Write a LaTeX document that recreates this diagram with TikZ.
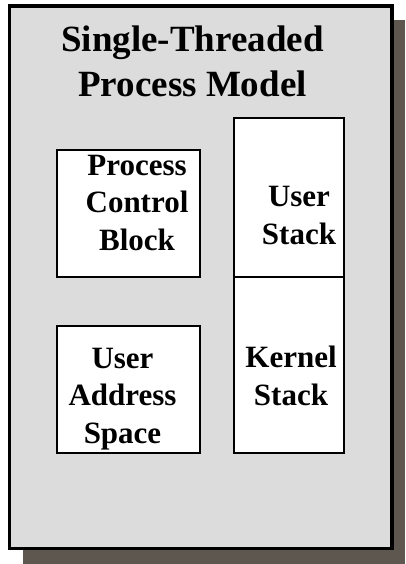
\documentclass[tikz,border=0pt]{standalone}
\usepackage{fontspec}
\setmainfont{Liberation Serif}
\usepackage{xcolor}
\definecolor{panelbg}{HTML}{DCDCDC}
\definecolor{panelshade}{HTML}{5E574F}
\definecolor{boxline}{HTML}{000000}

\begin{document}
\begin{tikzpicture}[x=1pt,y=-1pt,
    heading/.style={font=\fontsize{37}{45}\selectfont\bfseries,align=center,anchor=base,inner sep=0pt},
    boxtext/.style={font=\fontsize{31}{37.5}\selectfont\bfseries,align=center,anchor=base,inner sep=0pt}]
    \useasboundingbox (0,0) rectangle (405,564);
    % shadow and panel
    \fill[panelshade] (23,20) rectangle (405,564);
    \draw[fill=panelbg,draw=boxline,line width=3.5pt] (9.5,6) rectangle (392,548.7);
    % base anchor sits on the last line
    \node[heading] (title) at (192.5,97) {Single-Threaded\\Process Model};
    % left column
    \draw[fill=white,draw=boxline,line width=2pt] (57,150.3) rectangle (200.3,277);
    \draw[fill=white,draw=boxline,line width=2pt] (57,326.3) rectangle (200.3,453);
    \node[boxtext] (pcb) at (137,250) {Process\\Control\\Block};
    \node[boxtext] (uas) at (122.5,443) {User\\Address\\Space};
    % stack column
    \draw[fill=white,draw=boxline,line width=2pt] (233.7,118.3) rectangle (344.3,277);
    \draw[fill=white,draw=boxline,line width=2pt] (233.7,277) rectangle (344.3,453);
    \node[boxtext] (ustack) at (299,244) {User\\Stack};
    \node[boxtext] (kstack) at (291,405) {Kernel\\Stack};
\end{tikzpicture}
\end{document}
